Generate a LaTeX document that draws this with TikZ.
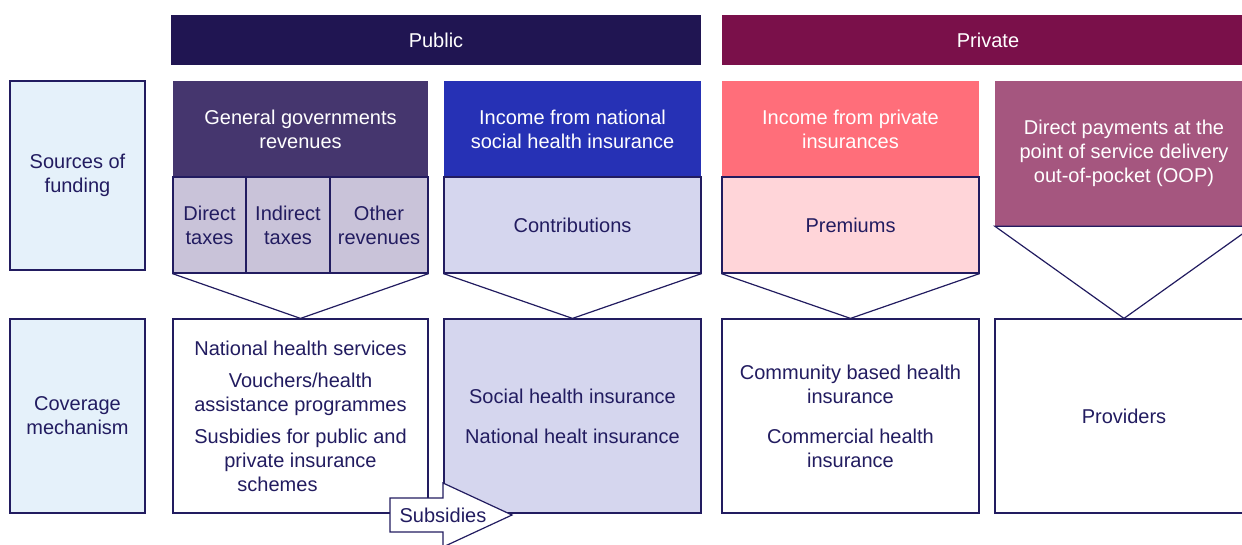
\documentclass[tikz,border=0pt]{standalone}
\usepackage{fontspec}
\setmainfont{Liberation Sans}
\definecolor{navy}{HTML}{221C60}
\definecolor{sidebg}{HTML}{E5F1FA}
\definecolor{pubhead}{HTML}{201552}
\definecolor{privhead}{HTML}{7A104A}
\definecolor{govfill}{HTML}{45366E}
\definecolor{taxfill}{HTML}{C9C3D9}
\definecolor{shifill}{HTML}{2631B5}
\definecolor{contfill}{HTML}{D5D6EE}
\definecolor{pinsfill}{HTML}{FF6E7A}
\definecolor{premfill}{HTML}{FFD5D9}
\definecolor{oopfill}{HTML}{A5567F}
\begin{document}
\begin{tikzpicture}[x=1pt,y=-1pt,
    font=\fontsize{20}{24}\selectfont,
    cell/.style={draw=navy,line width=1.2pt,align=center,text=navy,inner sep=0pt},
    head/.style={draw=none,align=center,text=white,inner sep=0pt}]
            \useasboundingbox (0,0) rectangle (1242,545);
            \clip (0,0) rectangle (1242,545);

            \node[cell,fill=sidebg,minimum width=135pt,minimum height=189pt] (src) at (77.5,175.5) {Sources of\\funding};
            \node[cell,fill=sidebg,minimum width=135pt,minimum height=194pt] (cov) at (77.5,416) {Coverage\\mechanism};

            \node[head,fill=pubhead,minimum width=530pt,minimum height=50pt] (pub) at (436,40) {Public};
            \node[head,fill=privhead,minimum width=532pt,minimum height=50pt] (priv) at (988,40) {Private};

            \node[head,fill=govfill,minimum width=255pt,minimum height=96pt] (gov) at (300.5,129) {General governments\\revenues};
            \node[cell,fill=taxfill,minimum width=73pt,minimum height=96pt] (direct) at (209.5,225) {Direct\\taxes};
            \node[cell,fill=taxfill,minimum width=84pt,minimum height=96pt] (indirect) at (288,225) {Indirect\\taxes};
            \node[cell,fill=taxfill,minimum width=98pt,minimum height=96pt] (other) at (379,225) {Other\\revenues};

            \node[head,fill=shifill,minimum width=257pt,minimum height=96pt] (nshi) at (572.5,129) {Income from national\\social health insurance};
            \node[cell,fill=contfill,minimum width=257pt,minimum height=96pt] (contrib) at (572.5,225) {Contributions};

            \node[head,fill=pinsfill,minimum width=257pt,minimum height=96pt] (pins) at (850.5,129) {Income from private\\insurances};
            \node[cell,fill=premfill,minimum width=257pt,minimum height=96pt] (prem) at (850.5,225) {Premiums};

            \node[head,fill=oopfill,minimum width=258pt,minimum height=145pt] (oop) at (1124,153.5) {Direct payments at the\\point of service delivery\\out-of-pocket (OOP)};

            \node[cell,fill=white,minimum width=255pt,minimum height=194pt] (cova) at (300.5,416) {National health services\\[8pt]Vouchers/health\\assistance programmes\\[8pt]Susbidies for public and\\private insurance\\schemes\hspace*{46pt}};
            \node[cell,fill=contfill,minimum width=257pt,minimum height=194pt] (covb) at (572.5,416) {Social health insurance\\[16pt]National healt insurance};
            \node[cell,fill=white,minimum width=257pt,minimum height=194pt] (covc) at (850.5,416) {Community based health\\insurance\\[16pt]Commercial health\\insurance};
            \node[cell,fill=white,minimum width=258pt,minimum height=194pt] (covd) at (1124,416) {Providers};

            \draw[navy,line width=1.2pt] (direct.south west) -- (cova.north) -- (other.south east);
            \draw[navy,line width=1.2pt] (contrib.south west) -- (covb.north) -- (contrib.south east);
            \draw[navy,line width=1.2pt] (prem.south west) -- (covc.north) -- (prem.south east);
            \draw[navy,line width=1.2pt] (oop.south east) -- (oop.south west) -- (covd.north) -- (oop.south east);

            \coordinate (tip) at (512,515);
            \draw[navy,line width=1.2pt,fill=white] (390,498) -- (443,498) -- (443,483) -- (tip) -- (443,547) -- (443,532) -- (390,532) -- cycle;
            \node[text=navy] (subs) at (443,515) {Subsidies};
        \end{tikzpicture}
\end{document}
